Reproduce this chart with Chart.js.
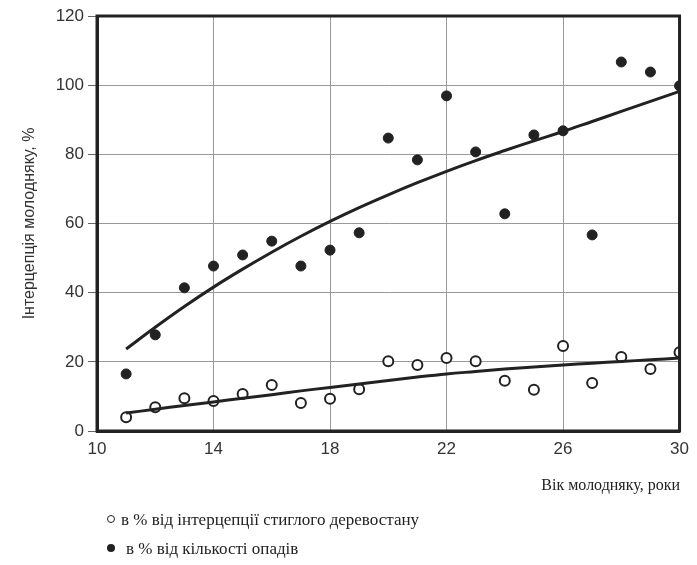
<!doctype html>
<html lang="uk">
<head>
<meta charset="utf-8">
<title>Інтерцепція молодняку</title>
<style>
  html, body { margin: 0; padding: 0; background: #fff; }
  #wrap { position: relative; width: 697px; height: 565px; }
  .txt { position: absolute; font-family: 'Liberation Serif', 'DejaVu Serif', serif; font-size: 17px; color: #222; white-space: nowrap; }
  .leg { left: 107px; }
  .leg span { display: inline-block; width: 8px; height: 8px; border-radius: 50%; margin-right: 6px; vertical-align: 2px; }
</style>
</head>
<body>
<div id="wrap">
  <canvas id="chart" width="697" height="565"></canvas>
  <div class="txt" style="top:476px; right:17px; font-size:16px">Вік молодняку, роки</div>
  <div class="txt leg" style="top:510px"><span style="border:1.5px solid #222;width:6px;height:6px"></span>в % від інтерцепції стиглого деревостану</div>
  <div class="txt leg" style="top:539px"><span style="background:#222;margin-right:11px"></span>в % від кількості опадів</div>
</div>
<script src="https://cdn.jsdelivr.net/npm/chart.js"></script>
<script>
// вік молодняку, роки
const ages = [11, 12, 13, 14, 15, 16, 17, 18, 19, 20, 21, 22, 23, 24, 25, 26, 27, 28, 29, 30]

// в % від інтерцепції стиглого деревостану (порожні кружки)
const standPct = [4.0, 6.9, 9.5, 8.7, 10.7, 13.3, 8.1, 9.3, 12.1, 20.2, 19.1, 21.1, 20.2, 14.5, 11.9, 24.6, 13.9, 21.4, 17.9, 22.8]
// в % від кількості опадів (чорні кружки)
const rainPct = [16.5, 27.8, 41.4, 47.7, 50.9, 54.9, 47.7, 52.3, 57.3, 84.7, 78.4, 96.9, 80.7, 62.8, 85.6, 86.8, 56.7, 106.7, 103.8, 99.8]

// лінії тренду
const standTrend = [5.2, 6.3, 7.4, 8.4, 9.5, 10.5, 11.6, 12.6, 13.6, 14.6, 15.6, 16.5, 17.2, 17.9, 18.5, 19.1, 19.6, 20.1, 20.6, 21.1]
const rainTrend = [23.7, 30.0, 36.0, 41.6, 46.8, 51.7, 56.3, 60.6, 64.6, 68.3, 71.8, 75.1, 78.2, 81.1, 83.9, 86.6, 89.5, 92.4, 95.3, 98.2]

const xTicks = [10, 14, 18, 22, 26, 30]
const yTicks = [0, 20, 40, 60, 80, 100, 120]

const pts = (ys) => ages.map((x, i) => ({ x: x, y: ys[i] }))

const frame = {
  id: 'frame',
  afterDatasetsDraw(chart) {
    const a = chart.chartArea
    const c = chart.ctx
    c.save()
    c.strokeStyle = '#222'
    c.lineWidth = 3
    c.strokeRect(a.left, a.top, a.right - a.left, a.bottom - a.top)
    c.restore()
  }
}

new Chart(document.getElementById('chart'), {
  type: 'scatter',
  data: {
    datasets: [
      {
        label: 'тренд опадів',
        type: 'line',
        data: pts(rainTrend),
        borderColor: '#222',
        borderWidth: 3,
        pointRadius: 0,
        tension: 0.4,
        fill: false
      },
      {
        label: 'тренд деревостану',
        type: 'line',
        data: pts(standTrend),
        borderColor: '#222',
        borderWidth: 3,
        pointRadius: 0,
        tension: 0.4,
        fill: false
      },
      {
        label: 'в % від кількості опадів',
        data: pts(rainPct),
        pointRadius: 5,
        pointBackgroundColor: '#222',
        pointBorderColor: '#222',
        pointBorderWidth: 1
      },
      {
        label: 'в % від інтерцепції стиглого деревостану',
        data: pts(standPct),
        pointRadius: 5,
        pointBackgroundColor: '#fff',
        pointBorderColor: '#222',
        pointBorderWidth: 2
      }
    ]
  },
  options: {
    responsive: false,
    animation: false,
    layout: { padding: { top: 16, right: 16, left: 0, bottom: 0 } },
    plugins: { legend: { display: false }, tooltip: { enabled: false } },
    scales: {
      x: {
        type: 'linear',
        min: 10,
        max: 30,
        afterBuildTicks(scale) { scale.ticks = xTicks.map(v => ({ value: v })) },
        afterFit(scale) { scale.height = 565 - 431 },
        ticks: { color: '#333', font: { family: 'Liberation Sans, Arial', size: 17 }, padding: 8 },
        grid: { color: '#999', lineWidth: 1, drawTicks: false },
        border: { color: '#222', width: 3 }
      },
      y: {
        min: 0,
        max: 120,
        afterBuildTicks(scale) { scale.ticks = yTicks.map(v => ({ value: v })) },
        afterFit(scale) { scale.width = 97 },
        ticks: { color: '#333', font: { family: 'Liberation Sans, Arial', size: 17 }, padding: 4 },
        grid: { color: '#999', lineWidth: 1, tickLength: 9, tickColor: '#666' },
        border: { color: '#222', width: 3 },
        title: {
          display: true,
          text: 'Інтерцепція молодняку, %',
          color: '#333',
          font: { family: 'Liberation Sans, Arial', size: 16 },
          padding: { top: 20, bottom: 4 }
        }
      }
    }
  },
  plugins: [frame]
})
</script>
</body>
</html>
